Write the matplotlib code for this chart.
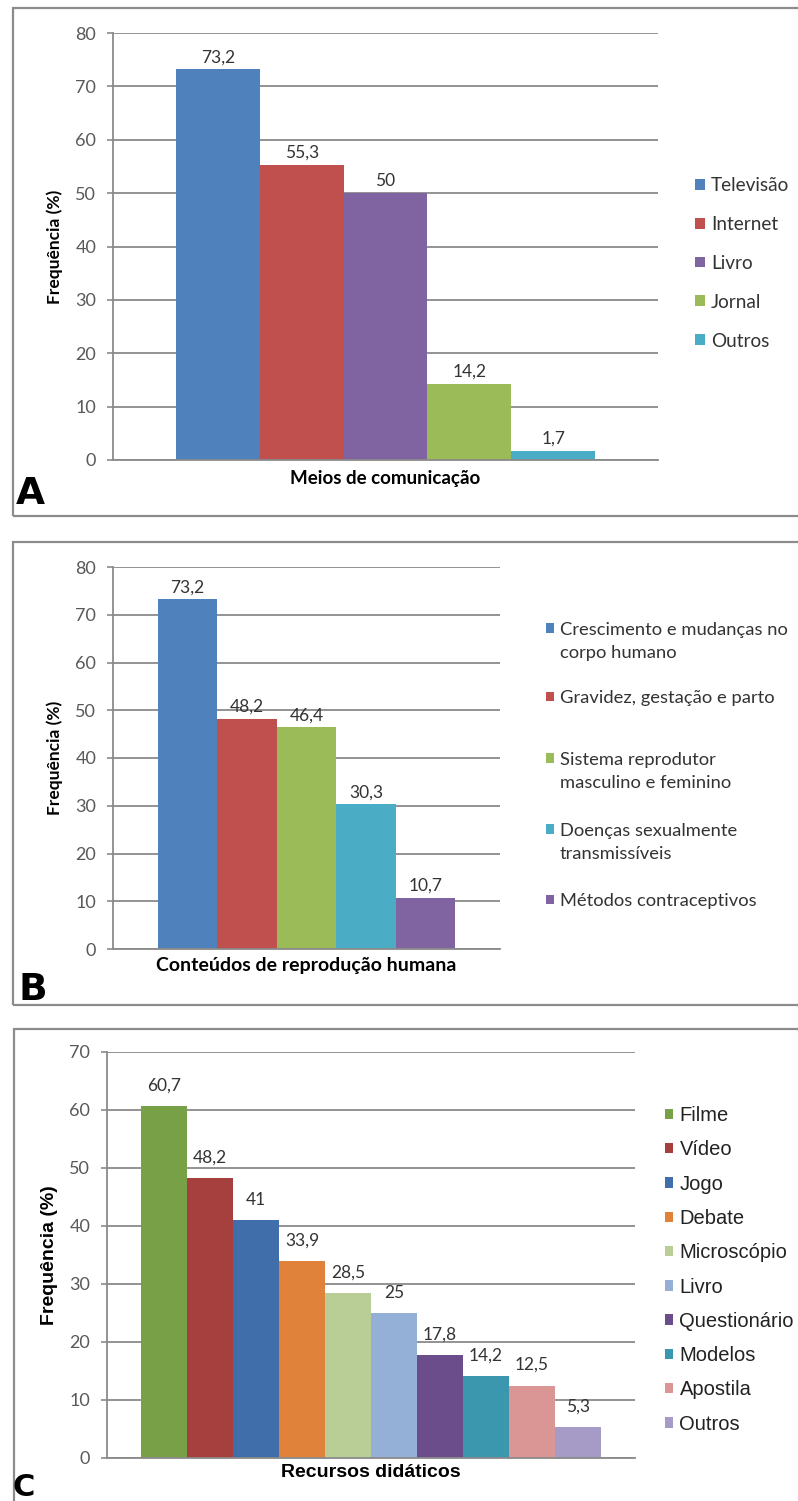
import matplotlib
matplotlib.use("Agg")
import matplotlib.pyplot as plt
from matplotlib.patches import Rectangle
from matplotlib.legend_handler import HandlerPatch

# ---- data ----
meios = ["Televisão", "Internet", "Livro", "Jornal", "Outros"]
meios_vals = [73.2, 55.3, 50, 14.2, 1.7]
meios_cores = ["#4F81BD", "#C0504D", "#8064A2", "#9BBB59", "#4BACC6"]

conteudos = ["Crescimento e mudanças no\ncorpo humano",
             "Gravidez, gestação e parto",
             "Sistema reprodutor\nmasculino e feminino",
             "Doenças sexualmente\ntransmissíveis",
             "Métodos contraceptivos"]
conteudos_vals = [73.2, 48.2, 46.4, 30.3, 10.7]
conteudos_cores = ["#4F81BD", "#C0504D", "#9BBB59", "#4BACC6", "#8064A2"]

recursos = ["Filme", "Vídeo", "Jogo", "Debate", "Microscópio", "Livro",
            "Questionário", "Modelos", "Apostila", "Outros"]
recursos_vals = [60.7, 48.2, 41, 33.9, 28.5, 25, 17.8, 14.2, 12.5, 5.3]
recursos_cores = ["#78A046", "#A6403E", "#3F6EAA", "#E0823A", "#B9CD96",
                  "#95B0D6", "#6B4D8C", "#3A97AE", "#D99694", "#A69BC6"]

W, H = 798, 1501
fig = plt.figure(figsize=(W / 100, H / 100), dpi=100)

CAL = "Lato"
ARIAL = "Liberation Sans"
GRID = "#8a8a8a"


def px_axes(l, t, r, b):
    return fig.add_axes([l / W, 1 - b / H, (r - l) / W, (b - t) / H])


def box(l, t, r, b):
    fig.add_artist(Rectangle((l / W, 1 - b / H), (r - l) / W, (b - t) / H,
                             transform=fig.transFigure, fill=False,
                             edgecolor="#8c8c8c", linewidth=1.6))


def painel(ax, nomes, vals, cores, ymax, xlabel, lab_font, xl_size, yl_size,
           pad_lab, xl_pad, yl_pad):
    x = range(len(vals))
    bars = ax.bar(x, vals, width=1.0, color=cores, linewidth=0, label=nomes, zorder=2)
    labels = [f"{v:g}".replace(".", ",") for v in vals]
    ax.bar_label(bars, labels=labels, padding=pad_lab, fontsize=12.5,
                 family=CAL, color="#333333")
    ax.set_ylim(0, ymax)
    ax.set_xlim(-0.5 - 0.75, len(vals) - 0.5 + 0.75)
    ax.set_yticks(range(0, ymax + 1, 10))
    ax.yaxis.grid(True, color=GRID, linewidth=1.3, zorder=0)
    ax.set_axisbelow(True)
    for s in ["top", "right"]:
        ax.spines[s].set_visible(False)
    for s in ["left", "bottom"]:
        ax.spines[s].set_color(GRID)
        ax.spines[s].set_linewidth(1.3)
    ax.set_xticks([])
    ax.tick_params(axis="y", direction="out", length=4, width=1.2, color=GRID,
                   labelcolor="#595959", pad=8, labelsize=13)
    for t in ax.get_yticklabels():
        t.set_family(CAL)
    ax.set_xlabel(xlabel, family=lab_font, fontsize=xl_size, fontweight="bold",
                  labelpad=xl_pad)
    ax.set_ylabel("Frequência (%)", family=lab_font, fontsize=yl_size,
                  fontweight="bold", labelpad=yl_pad)
    return bars


def sobe(shift):
    # move the legend square up to the first line of a two-line label
    def f(legend, orig_handle, xdescent, ydescent, width, height, fontsize):
        return Rectangle((-xdescent, -ydescent + shift), width, height)
    return f


# ---- A ----
box(13, 8, 800, 516)
axA = px_axes(113, 33, 658, 460)
barsA = painel(axA, meios, meios_vals, meios_cores, 80, "Meios de comunicação",
               CAL, 13.5, 12.5, 3, 7, 9)
fig.legend(handles=list(barsA), labels=meios, loc="upper left",
           bbox_to_anchor=(695 / W, 1 - 177 / H), bbox_transform=fig.transFigure,
           frameon=False, borderpad=0, borderaxespad=0, handlelength=0.5,
           handleheight=0.5, handletextpad=0.35, labelspacing=1.15,
           prop={"family": CAL, "size": 13.7}, labelcolor="#333333")
fig.text(16 / W, 1 - 504 / H, "A", fontsize=27, fontweight="bold",
         family="DejaVu Sans", va="baseline")

# ---- B ----
box(13, 542, 800, 1005)
axB = px_axes(113, 567, 500, 949)
barsB = painel(axB, conteudos, conteudos_vals, conteudos_cores, 80,
               "Conteúdos de reprodução humana", CAL, 14, 12.5, 3, 6, 9)
linha_y = [628, 698, 758, 829, 901]
for bar, nome, yy in zip(barsB, conteudos, linha_y):
    n = nome.count("\n") + 1
    hmap = {}
    if n > 1:
        hmap = {bar: HandlerPatch(patch_func=sobe(13.5 * 0.72))}
    leg = fig.legend(handles=[bar], labels=[nome], loc="center left",
                     bbox_to_anchor=(546 / W, 1 - (yy + 13.5 * (n - 1)) / H),
                     bbox_transform=fig.transFigure, handler_map=hmap,
                     frameon=False, borderpad=0, borderaxespad=0,
                     handlelength=0.45, handleheight=0.45, handletextpad=0.3,
                     prop={"family": CAL, "size": 13.2}, labelcolor="#333333")
    for t in leg.get_texts():
        t.set_linespacing(1.5)
fig.text(18 / W, 1 - 1000 / H, "B", fontsize=27, fontweight="bold",
         family="DejaVu Sans", va="baseline")

# ---- C ----
box(14, 1029, 800, 1510)
axC = px_axes(107, 1052, 635, 1458)
barsC = painel(axC, recursos, recursos_vals, recursos_cores, 70,
               "Recursos didáticos", ARIAL, 14, 14, 9, 4, 8)
fig.legend(handles=list(barsC), labels=recursos, loc="upper left",
           bbox_to_anchor=(665 / W, 1 - 1106 / H), bbox_transform=fig.transFigure,
           frameon=False, borderpad=0, borderaxespad=0, handlelength=0.42,
           handleheight=0.42, handletextpad=0.3, labelspacing=0.76,
           prop={"family": ARIAL, "size": 14.5}, labelcolor="#222222")
fig.text(13 / W, 1 - 1496 / H, "C", fontsize=22, fontweight="bold",
         family="DejaVu Sans", va="baseline")

fig.savefig("out.png", dpi=100, facecolor="white")
